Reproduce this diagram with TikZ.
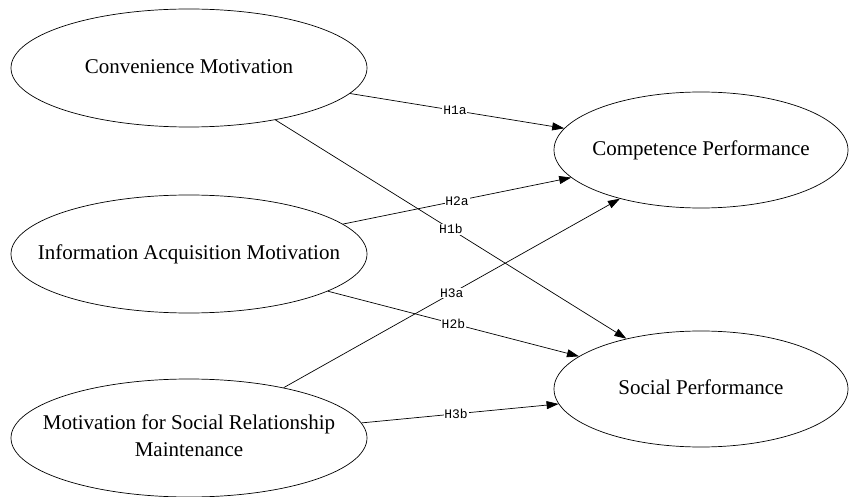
\documentclass[tikz,border=0pt]{standalone}
\usepackage{fontspec}
\setmainfont{Liberation Serif}
\newfontfamily\labfont{Liberation Mono}
\usetikzlibrary{shapes.geometric,arrows.meta}
\newcommand{\fixedtext}[1]{\makebox[0pt]{\begin{tabular}{@{}c@{}}#1\end{tabular}}}
\begin{document}
\begin{tikzpicture}[x=1pt,y=-1pt,
  var/.style={draw,ellipse,line width=0.7pt,inner sep=0pt,
    font=\fontsize{21}{27}\selectfont,minimum width=356pt,minimum height=118pt},
  res/.style={var,minimum width=294pt,minimum height=116pt},
  hyp/.style={draw,line width=0.7pt,-{Triangle[length=12pt,width=8pt]}},
  hlab/.style={fill=white,inner sep=0.8pt,font=\labfont\fontsize{13}{14}\selectfont}]
\useasboundingbox (0,0) rectangle (849,497);
\node[var] (cm) at (189,68) {\fixedtext{Convenience Motivation}};
\node[var] (ia) at (189,254) {\fixedtext{Information Acquisition Motivation}};
\node[var] (ms) at (189,438) {\fixedtext{Motivation for Social Relationship\\Maintenance}};
\node[res] (cp) at (701,150) {\fixedtext{Competence Performance}};
\node[res] (sp) at (701,389) {\fixedtext{Social Performance}};
\draw[hyp] (cm.-9.4) -- node[hlab,pos=0.49] {H1a} (cp.171.5);
\draw[hyp] (ia.11.4) -- node[hlab] {H2a} (cp.192);
\draw[hyp] (cm.-31.6) -- node[hlab] {H1b} (sp.146);
\draw[hyp] (ms.28) -- node[hlab] {H3a} (cp.211.8);
\draw[hyp] (ia.-15.1) -- node[hlab] {H2b} (sp.165.4);
\draw[hyp] (ms.5.5) -- node[hlab,pos=0.48] {H3b} (sp.186.3);
\end{tikzpicture}
\end{document}
